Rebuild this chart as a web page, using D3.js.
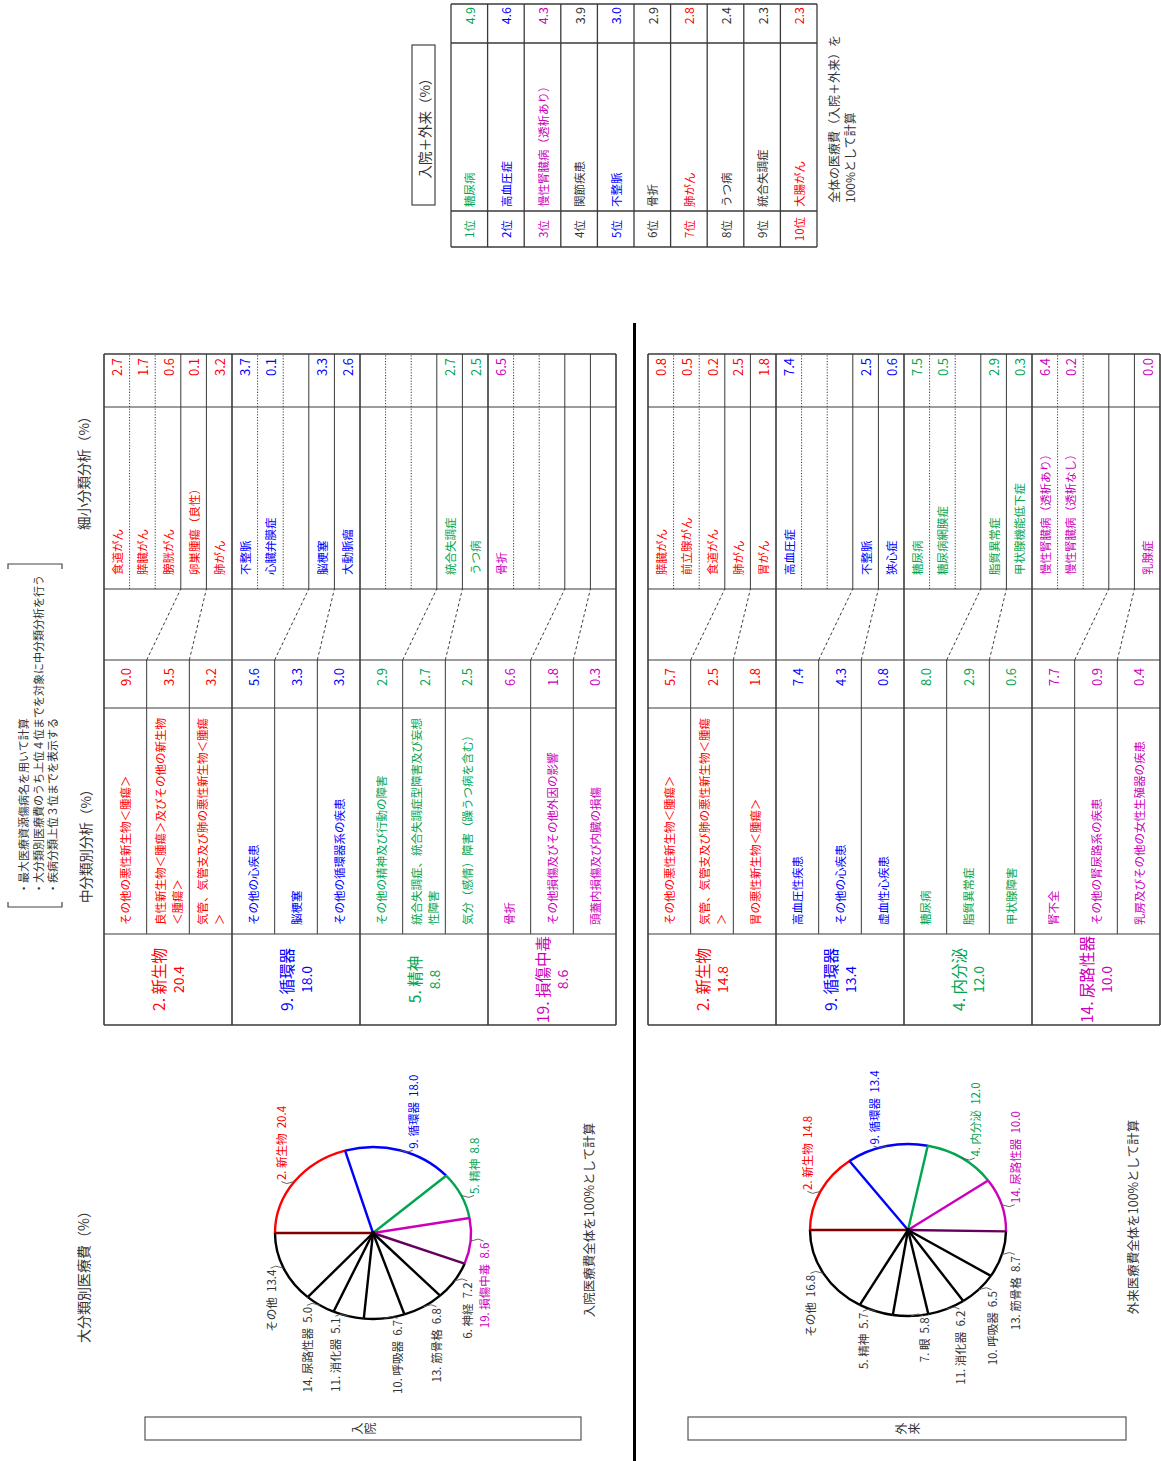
<!DOCTYPE html>
<html><head><meta charset="utf-8">
<script src="https://cdn.jsdelivr.net/npm/d3@7"></script>
<style>
body{margin:0;background:#fff}
svg{display:block}
text{font-family:"Noto Sans CJK JP","Noto Sans",sans-serif}
</style>
</head><body>
<svg id="c" width="1161" height="1461"></svg>
<script>
// ---------------- DATA ----------------
const inPieLabels = ["2. 新生物","9. 循環器","5. 精神","19. 損傷中毒","6. 神経","13. 筋骨格","10. 呼吸器","11. 消化器","14. 尿路性器","その他"];
const inPieValues = [20.4,18.0,8.8,8.6,7.2,6.8,6.7,5.1,5.0,13.4];
const outPieLabels = ["2. 新生物","9. 循環器","4. 内分泌","14. 尿路性器","13. 筋骨格","10. 呼吸器","11. 消化器","7. 眼","5. 精神","その他"];
const outPieValues = [14.8,13.4,12.0,10.0,8.7,6.5,6.2,5.8,5.7,16.8];

const inCatNames = ["2. 新生物","9. 循環器","5. 精神","19. 損傷中毒"];
const inCatValues = [20.4,18.0,8.8,8.6];
const inMidNames = [
  ["その他の悪性新生物＜腫瘍＞","良性新生物＜腫瘍＞及びその他の新生物＜腫瘍＞","気管、気管支及び肺の悪性新生物＜腫瘍＞"],
  ["その他の心疾患","脳梗塞","その他の循環器系の疾患"],
  ["その他の精神及び行動の障害","統合失調症、統合失調症型障害及び妄想性障害","気分（感情）障害（躁うつ病を含む）"],
  ["骨折","その他損傷及びその他外因の影響","頭蓋内損傷及び内臓の損傷"]
];
const inMidValues = [[9.0,3.5,3.2],[5.6,3.3,3.0],[2.9,2.7,2.5],[6.6,1.8,0.3]];
const inSmallNames = [
  ["食道がん","膵臓がん","膀胱がん","卵巣腫瘍（良性）","肺がん"],
  ["不整脈","心臓弁膜症","","脳梗塞","大動脈瘤"],
  ["","","","統合失調症","うつ病"],
  ["骨折","","","",""]
];
const inSmallValues = [[2.7,1.7,0.6,0.1,3.2],[3.7,0.1,null,3.3,2.6],[null,null,null,2.7,2.5],[6.5,null,null,null,null]];

const outCatNames = ["2. 新生物","9. 循環器","4. 内分泌","14. 尿路性器"];
const outCatValues = [14.8,13.4,12.0,10.0];
const outMidNames = [
  ["その他の悪性新生物＜腫瘍＞","気管、気管支及び肺の悪性新生物＜腫瘍＞","胃の悪性新生物＜腫瘍＞"],
  ["高血圧性疾患","その他の心疾患","虚血性心疾患"],
  ["糖尿病","脂質異常症","甲状腺障害"],
  ["腎不全","その他の腎尿路系の疾患","乳房及びその他の女性生殖器の疾患"]
];
const outMidValues = [[5.7,2.5,1.8],[7.4,4.3,0.8],[8.0,2.9,0.6],[7.7,0.9,0.4]];
const outSmallNames = [
  ["膵臓がん","前立腺がん","食道がん","肺がん","胃がん"],
  ["高血圧症","","","不整脈","狭心症"],
  ["糖尿病","糖尿病網膜症","","脂質異常症","甲状腺機能低下症"],
  ["慢性腎臓病（透析あり）","慢性腎臓病（透析なし）","","","乳腺症"]
];
const outSmallValues = [[0.8,0.5,0.2,2.5,1.8],[7.4,null,null,2.5,0.6],[7.5,0.5,null,2.9,0.3],[6.4,0.2,null,null,0.0]];

const rankLabels = ["1位","2位","3位","4位","5位","6位","7位","8位","9位","10位"];
const rankNames = ["糖尿病","高血圧症","慢性腎臓病（透析あり）","関節疾患","不整脈","骨折","肺がん","うつ病","統合失調症","大腸がん"];
const rankValues = [4.9,4.6,4.3,3.9,3.0,2.9,2.8,2.4,2.3,2.3];
const rankCategory = ["4. 内分泌","9. 循環器","14. 尿路性器","13. 筋骨格","9. 循環器","19. 損傷中毒","2. 新生物","5. 精神","5. 精神","2. 新生物"];

const notes = ["・最大医療資源傷病名を用いて計算","・大分類別医療費のうち上位４位までを対象に中分類分析を行う","・疾病分類上位３位までを表示する"];

// ---------------- STYLE ----------------
const PAL = ["#ff0000","#0000ff","#00a550","#cc00bb"];
const INK = "#333";
const LINE = "#3a3a3a";

const svg = d3.select("#c");
const measure = svg.append("text").attr("visibility","hidden");
// landscape page (1461 x 1161) rotated 90° counter-clockwise
const root = svg.append("g").attr("transform","translate(0,1461) rotate(-90)");

function wrapLines(str, fs, maxW){
  measure.attr("font-size", fs);
  const lines=[]; let cur="";
  for (const ch of str){
    measure.text(cur+ch);
    if (measure.node().getComputedTextLength() > maxW && cur){ lines.push(cur); cur=ch; }
    else cur += ch;
  }
  if (cur) lines.push(cur);
  return lines;
}
const fmt = d3.format(".1f");

// ---------------- SIDE BOXES ----------------
function sideBox(y0, y1, chars){
  root.append("rect").attr("x",21).attr("y",y0).attr("width",23).attr("height",y1-y0)
    .attr("fill","#fff").attr("stroke","#555").attr("stroke-width",1.2);
  const mid=(y0+y1)/2;
  chars.forEach((c,i)=>{
    root.append("text").attr("x",32.5).attr("y",mid+(i-(chars.length-1)/2)*13)
      .attr("text-anchor","middle").attr("dominant-baseline","central")
      .attr("font-size",12).attr("fill",INK).text(c);
  });
}
sideBox(145,581,["入","院"]);
sideBox(688,1126,["外","来"]);

// divider
root.append("line").attr("x1",0).attr("x2",1138).attr("y1",634.5).attr("y2",634.5)
  .attr("stroke","#000").attr("stroke-width",3);

// ---------------- TITLES ----------------
root.append("text").attr("x",118).attr("y",83).attr("dominant-baseline","central")
  .attr("font-size",14).attr("fill",INK).text("大分類別医療費（%）");
root.append("text").attr("x",558).attr("y",85).attr("dominant-baseline","central")
  .attr("font-size",13.5).attr("fill",INK).text("中分類別分析（%）");
root.append("text").attr("x",931).attr("y",83).attr("dominant-baseline","central")
  .attr("font-size",13.5).attr("fill",INK).text("細小分類分析（%）");

// notes with brackets
[[554,1],[897,-1]].forEach(([x,s])=>{
  root.append("path").attr("d",`M${x+5*s},8 L${x},8 L${x},62 L${x+5*s},62`)
    .attr("fill","none").attr("stroke","#444").attr("stroke-width",1.2);
});
notes.forEach((n,i)=>{
  root.append("text").attr("x",567).attr("y",23+i*14.5).attr("dominant-baseline","central")
    .attr("font-size",11).attr("fill",INK).text(n);
});

// ---------------- PIES ----------------
function drawPie(cx, cy, labels, values, caption, capY){
  const rx=86, ry=98;
  const g = root.append("g").attr("transform",`translate(${cx},${cy})`);
  const arcs = d3.pie().sort(null).value(d=>d)(values);
  const col = i => i<4 ? PAL[i] : "#000";
  const gs = g.append("g").attr("transform",`scale(${rx/ry},1)`);
  const arc = d3.arc().innerRadius(0).outerRadius(ry);
  gs.selectAll("path.f").data(arcs).join("path").attr("class","f").attr("d",arc).attr("fill","#fff");
  const rim = d3.arc().innerRadius(ry).outerRadius(ry);
  gs.selectAll("path.r").data(arcs).join("path").attr("class","r").attr("d",rim)
    .attr("fill","none").attr("stroke",(d,i)=>col(i)).attr("stroke-width",2.4)
    .attr("vector-effect","non-scaling-stroke");
  arcs.forEach((d,i)=>{
    const prev=(i-1+arcs.length)%arcs.length;
    let c = col(i);
    if ((i<4) !== (prev<4)) c = d3.interpolateRgb(i<4?col(i):col(prev),"#000")(0.5);
    gs.append("line").attr("x1",0).attr("y1",0)
      .attr("x2",ry*Math.sin(d.startAngle)).attr("y2",-ry*Math.cos(d.startAngle))
      .attr("stroke",c).attr("stroke-width",2.4).attr("vector-effect","non-scaling-stroke");
  });
  g.append("circle").attr("r",2.2).attr("fill","#000");
  // labels
  arcs.forEach((d,i)=>{
    const a=(d.startAngle+d.endAngle)/2;
    const px=rx*Math.sin(a), py=-ry*Math.cos(a);
    const s = Math.sin(a)>=0 ? 1 : -1;
    const dy = Math.cos(a)>0 ? -13 : 13;
    const ly = py+dy;
    g.append("path").attr("d",`M${px},${py} L${px-s*2},${py+dy*0.6} L${px},${ly}`)
      .attr("fill","none").attr("stroke","#555").attr("stroke-width",0.9);
    g.append("text").attr("x",px+s*1.5).attr("y",ly).attr("dominant-baseline","central")
      .attr("text-anchor", s>0?"start":"end").attr("font-size",11.5)
      .attr("fill", i<4?PAL[i]:INK).attr("xml:space","preserve")
      .text(`${labels[i]}  ${fmt(values[i])}`);
  });
  root.append("text").attr("x",cx+13).attr("y",capY).attr("text-anchor","middle")
    .attr("dominant-baseline","central").attr("font-size",12.5).attr("fill",INK).text(caption);
}
drawPie(228,373,inPieLabels,inPieValues,"入院医療費全体を100%として計算",588);
drawPie(231,908,outPieLabels,outPieValues,"外来医療費全体を100%として計算",1132);

// ---------------- MID / SMALL TABLES ----------------
function drawTable(y0,y1,cats,catVals,midN,midV,smN,smV){
  const X={cat:436, mid:527, midV:753, gap:801, sm:872, smV:1054, end:1107};
  const g=root.append("g");
  const gy=d3.scaleBand().domain(d3.range(cats.length)).range([y0,y1]);
  const gh=gy.bandwidth();
  const my=d3.scaleBand().domain(d3.range(3)).range([0,gh]);
  const sy=d3.scaleBand().domain(d3.range(5)).range([0,gh]);
  const ln=(x1,yA,x2,yB,w,dash)=>g.append("line").attr("x1",x1).attr("y1",yA).attr("x2",x2).attr("y2",yB)
      .attr("stroke",LINE).attr("stroke-width",w).attr("stroke-dasharray",dash||null);
  cats.forEach((c,gi)=>{
    const top=gy(gi), color=PAL[gi];
    [1,2].forEach(i=>ln(X.mid,top+my(i),X.gap,top+my(i),1));
    [1,2,3,4].forEach(k=>ln(X.sm,top+sy(k),X.end,top+sy(k),1,k<3?"1.2,1.6":null));
    ln(X.gap,top+my(1),X.sm,top+sy(3),1,"3,2.5");
    ln(X.gap,top+my(2),X.sm,top+sy(4),1,"3,2.5");
    const cx=(X.cat+X.mid)/2, cyy=top+gh/2;
    g.append("text").attr("x",cx).attr("y",cyy-10).attr("text-anchor","middle").attr("dominant-baseline","central")
      .attr("font-size",15.5).attr("fill",color).text(c);
    g.append("text").attr("x",cx).attr("y",cyy+10).attr("text-anchor","middle").attr("dominant-baseline","central")
      .attr("font-size",14).attr("fill",color).text(fmt(catVals[gi]));
    midN[gi].forEach((n,i)=>{
      const ym=top+my(i)+my.bandwidth()/2;
      const lines=wrapLines(n,11.5,212);
      const t=g.append("text").attr("font-size",11.5).attr("fill",color);
      lines.forEach((l,j)=>t.append("tspan").attr("x",X.mid+9)
        .attr("y",ym+(j-(lines.length-1)/2)*17).attr("dominant-baseline","central").text(l));
      g.append("text").attr("x",X.gap-8).attr("y",ym).attr("text-anchor","end").attr("dominant-baseline","central")
        .attr("font-size",13).attr("fill",color).text(fmt(midV[gi][i]));
    });
    smN[gi].forEach((n,k)=>{
      const ys=top+sy(k)+sy.bandwidth()/2;
      if(n) g.append("text").attr("x",X.sm+14).attr("y",ys).attr("dominant-baseline","central")
        .attr("font-size",11.5).attr("fill",color).text(n);
      const v=smV[gi][k];
      if(v!==null) g.append("text").attr("x",X.end-4).attr("y",ys).attr("text-anchor","end").attr("dominant-baseline","central")
        .attr("font-size",13).attr("fill",color).text(fmt(v));
    });
  });
  Object.values(X).forEach(x=>ln(x,y0,x,y1,(x===X.cat||x===X.end)?1.5:1.2));
  d3.range(cats.length+1).forEach(i=>{ const y=i<cats.length?gy(i):y1; ln(X.cat,y,X.end,y,1.6); });
}
drawTable(104,616,inCatNames,inCatValues,inMidNames,inMidValues,inSmallNames,inSmallValues);
drawTable(648,1160,outCatNames,outCatValues,outMidNames,outMidValues,outSmallNames,outSmallValues);

// ---------------- RANKING TABLE ----------------
(function(){
  const X={rank:1214, name:1250, val:1418, end:1457};
  const y0=451, y1=817;
  const ry=d3.scaleBand().domain(d3.range(rankNames.length)).range([y0,y1]);
  const g=root.append("g");
  const colorOf=c=>{const i=outCatNames.indexOf(c); return i>=0?PAL[i]:INK;};
  rankNames.forEach((n,i)=>{
    const yc=ry(i)+ry.bandwidth()/2, c=colorOf(rankCategory[i]);
    g.append("text").attr("x",(X.rank+X.name)/2).attr("y",yc).attr("text-anchor","middle").attr("dominant-baseline","central")
      .attr("font-size",11.5).attr("fill",c).text(rankLabels[i]);
    g.append("text").attr("x",X.name+4).attr("y",yc).attr("dominant-baseline","central")
      .attr("font-size",11.5).attr("fill",c).text(n);
    g.append("text").attr("x",X.end-3).attr("y",yc).attr("text-anchor","end").attr("dominant-baseline","central")
      .attr("font-size",12.5).attr("fill",c).text(fmt(rankValues[i]));
  });
  const ln=(x1,yA,x2,yB,w)=>g.append("line").attr("x1",x1).attr("y1",yA).attr("x2",x2).attr("y2",yB).attr("stroke",LINE).attr("stroke-width",w);
  Object.values(X).forEach(x=>ln(x,y0,x,y1,1.3));
  d3.range(rankNames.length+1).forEach(i=>{const y=i<rankNames.length?ry(i):y1; ln(X.rank,y,X.end,y,1.3);});
  root.append("rect").attr("x",1256).attr("y",412).attr("width",160).attr("height",23)
    .attr("fill","#fff").attr("stroke","#444").attr("stroke-width",1.2);
  root.append("text").attr("x",1336).attr("y",423.5).attr("text-anchor","middle").attr("dominant-baseline","central")
    .attr("font-size",13.5).attr("fill",INK).text("入院＋外来（%）");
  root.append("text").attr("x",1258).attr("y",833).attr("dominant-baseline","central")
    .attr("font-size",12).attr("fill",INK).text("全体の医療費（入院＋外来）を");
  root.append("text").attr("x",1258).attr("y",849).attr("dominant-baseline","central")
    .attr("font-size",12).attr("fill",INK).text("100%として計算");
})();
</script>
</body></html>
